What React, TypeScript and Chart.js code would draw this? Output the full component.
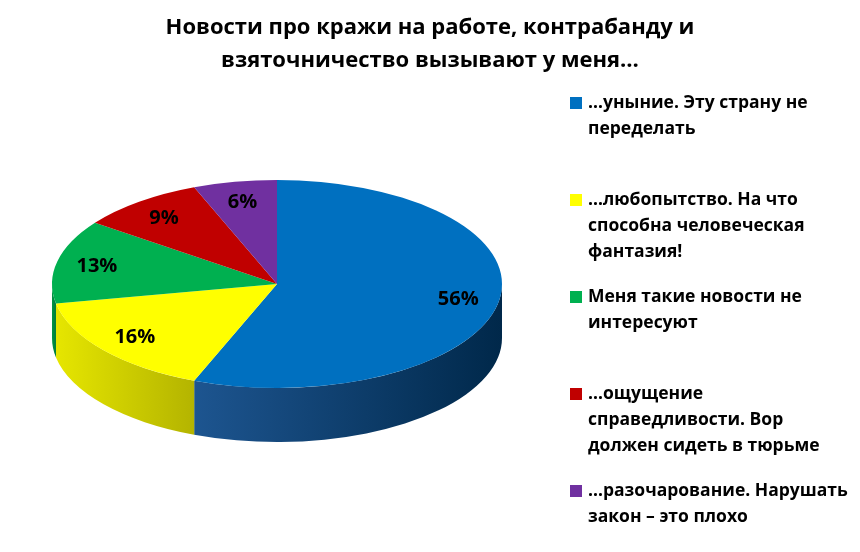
import { useEffect, useRef } from 'react';
import { Chart, registerables, Plugin } from 'chart.js';

Chart.register(...registerables);

// Survey answers (legend text, already broken into lines as in the source slide)
const categories: string[][] = [
  ['…уныние. Эту страну не', 'переделать'],
  ['…любопытство. На что', 'способна человеческая', 'фантазия!'],
  ['Меня такие новости не', 'интересуют'],
  ['…ощущение', 'справедливости. Вор', 'должен сидеть в тюрьме'],
  ['…разочарование. Нарушать', 'закон – это плохо'],
];
const shares = [56, 16, 13, 9, 6];
const titleLines = ['Новости про кражи на работе, контрабанду и', 'взяточничество вызывают у меня…'];

const topColors = ['#0070C0', '#FFFF00', '#00B050', '#C00000', '#7030A0'];
const sideColors = [
  ['#1d5590', '#00284a'],
  ['#e6e600', '#b4b400'],
  ['#009444', '#007a38'],
  ['#a00000', '#800000'],
  ['#5c2888', '#4a1f70'],
];

// where the tilted pie sits on the page
const CX = 277;
const CY = 284;
const RX = 225;
const RY = 104;
const DEPTH = 54;

const FONT = '"Open Sans", "DejaVu Sans", sans-serif';

const pie3d: Plugin<'pie'> = {
  id: 'pie3d',
  beforeDatasetsDraw(chart) {
    const ctx = chart.ctx;
    const arcs = chart.getDatasetMeta(0).data as any[];
    if (!arcs.length) return;

    // front walls, only the half facing the viewer
    arcs.forEach((arc, i) => {
      const s = arc.startAngle as number;
      const e = arc.endAngle as number;
      [-2 * Math.PI, 0, 2 * Math.PI].forEach((off) => {
        const lo = Math.max(s, off);
        const hi = Math.min(e, off + Math.PI);
        if (hi - lo < 0.001) return;
        const x0 = CX + RX * Math.cos(lo);
        const x1 = CX + RX * Math.cos(hi);
        const grad = ctx.createLinearGradient(Math.min(x0, x1), 0, Math.max(x0, x1), 0);
        const [c0, c1] = sideColors[i];
        // darker towards the right
        grad.addColorStop(0, c0);
        grad.addColorStop(1, c1);
        ctx.save();
        ctx.beginPath();
        ctx.ellipse(CX, CY, RX, RY, 0, lo, hi, false);
        ctx.ellipse(CX, CY + DEPTH, RX, RY, 0, hi, lo, true);
        ctx.closePath();
        ctx.fillStyle = grad;
        ctx.fill();
        ctx.restore();
      });
    });

    const { x, y, outerRadius } = arcs[0];
    ctx.save();
    ctx.translate(CX, CY);
    ctx.scale(RX / outerRadius, RY / outerRadius);
    ctx.translate(-x, -y);
  },
  afterDatasetsDraw(chart) {
    const ctx = chart.ctx;
    ctx.restore();

    const arcs = chart.getDatasetMeta(0).data as any[];
    const total = shares.reduce((a, b) => a + b, 0);
    ctx.save();
    ctx.font = `bold 20px ${FONT}`;
    ctx.fillStyle = '#000';
    ctx.textAlign = 'center';
    ctx.textBaseline = 'middle';
    arcs.forEach((arc, i) => {
      const mid = (arc.startAngle + arc.endAngle) / 2;
      const lx = CX + 0.82 * RX * Math.cos(mid);
      const ly = CY + 0.8 * RY * Math.sin(mid);
      ctx.fillText(Math.round((shares[i] / total) * 100) + '%', lx, ly);
    });
    ctx.restore();

    // legend on the right
    ctx.save();
    ctx.font = `bold 17.5px ${FONT}`;
    ctx.textAlign = 'left';
    ctx.textBaseline = 'middle';
    categories.forEach((lines, i) => {
      const y0 = 103 + i * 97;
      ctx.fillStyle = topColors[i];
      ctx.fillRect(570, y0 - 6, 12, 12);
      ctx.fillStyle = '#000';
      lines.forEach((line, j) => ctx.fillText(line, 588, y0 + j * 26));
    });
    ctx.restore();
  },
};

export default function App() {
  const canvasRef = useRef<HTMLCanvasElement>(null);

  useEffect(() => {
    if (!canvasRef.current) return;
    const chart = new Chart(canvasRef.current, {
      type: 'pie',
      data: {
        labels: categories.map((l) => l.join(' ')),
        datasets: [
          {
            data: shares,
            backgroundColor: topColors,
            borderWidth: 0,
            hoverOffset: 0,
            clip: false,
          },
        ],
      },
      options: {
        animation: false,
        responsive: true,
        maintainAspectRatio: false,
        events: [],
        layout: { padding: 0 },
        plugins: {
          legend: { display: false },
          tooltip: { enabled: false },
          title: {
            display: true,
            text: titleLines,
            color: '#000',
            font: { family: FONT, size: 22, weight: 'bold', lineHeight: 1.5 },
            padding: { top: 11, bottom: 4 },
          },
        },
      },
      plugins: [pie3d],
    });
    return () => chart.destroy();
  }, []);

  return (
    <div style={{ position: 'absolute', left: 0, top: 0, width: 860, height: 552, background: '#fff' }}>
      <canvas ref={canvasRef} />
    </div>
  );
}
